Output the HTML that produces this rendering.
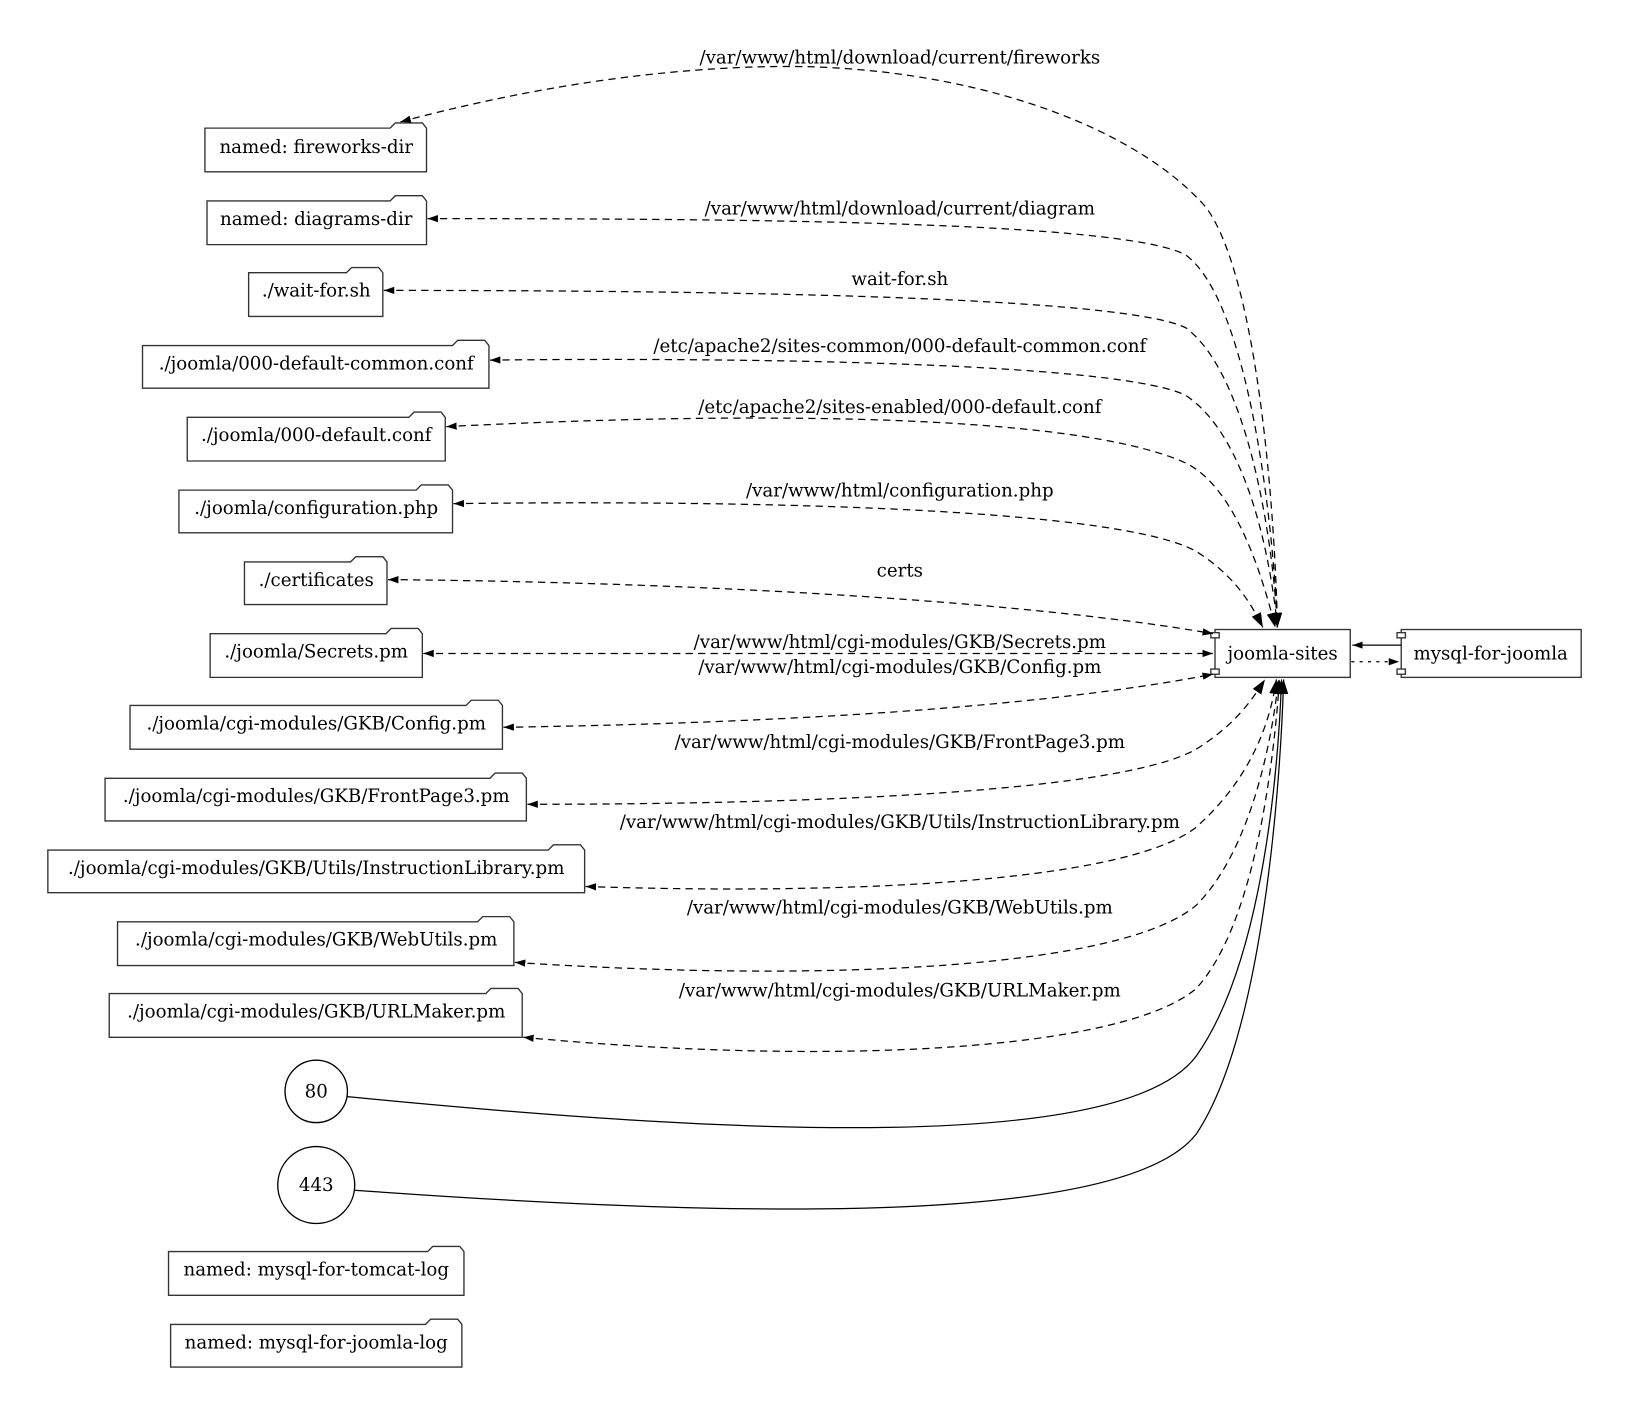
<!DOCTYPE html>
<html><head><meta charset="utf-8"><style>html,body{margin:0;padding:0;background:#fff}svg{display:block}</style></head>
<body>
<svg width="1628" height="1413" viewBox="0 0 1565 1358" xmlns="http://www.w3.org/2000/svg" font-family="'DejaVu Serif', 'Liberation Serif', serif" font-size="17.5">
<defs>
<marker id="a" viewBox="0 0 10 10" refX="10" refY="5" markerWidth="10" markerHeight="10" markerUnits="userSpaceOnUse" orient="auto-start-reverse"><path d="M0,1.5 L10,5 L0,8.5 z" fill="#000"/></marker>
<marker id="b" viewBox="0 0 10 10" refX="10" refY="5" markerWidth="14" markerHeight="14" markerUnits="userSpaceOnUse" orient="auto-start-reverse"><path d="M0,1.5 L10,5 L0,8.5 z" fill="#000"/></marker>
</defs>
<g fill="#fff" stroke="#333" stroke-width="1.3">
<path d="M197,123 H375 L380,118 H406 L410,123 V165 H197 Z"/>
<path d="M199,193 H375 L380,188 H406 L410,193 V235 H199 Z"/>
<path d="M239,262 H333 L338,257 H364 L368,262 V304 H239 Z"/>
<path d="M137,332 H435 L440,327 H466 L470,332 V373 H137 Z"/>
<path d="M180,401 H393 L398,396 H424 L428,401 V443 H180 Z"/>
<path d="M172,471 H400 L405,466 H431 L435,471 V512 H172 Z"/>
<path d="M235,540 H337 L342,535 H368 L372,540 V581 H235 Z"/>
<path d="M202,609 H371 L376,604 H402 L406,609 V651 H202 Z"/>
<path d="M125,678 H448 L453,673 H479 L483,678 V720 H125 Z"/>
<path d="M101,748 H471 L476,743 H502 L506,748 V789 H101 Z"/>
<path d="M46,817 H527 L532,812 H558 L562,817 V858 H46 Z"/>
<path d="M113,886 H459 L464,881 H490 L494,886 V928 H113 Z"/>
<path d="M105,955 H467 L472,950 H498 L502,955 V997 H105 Z"/>
<path d="M162,1203 H411 L416,1198 H442 L446,1203 V1245 H162 Z"/>
<path d="M164,1273 H409 L414,1268 H440 L444,1273 V1314 H164 Z"/>
<ellipse cx="304" cy="1049" rx="30" ry="30" stroke="#000"/>
<ellipse cx="304" cy="1139" rx="37" ry="37" stroke="#000"/>
<rect x="1168" y="605" width="130" height="46"/>
<rect x="1164" y="608" width="8" height="5"/>
<rect x="1164" y="643" width="8" height="5"/>
<rect x="1347" y="605" width="173" height="46"/>
<rect x="1343" y="608" width="8" height="5"/>
<rect x="1343" y="643" width="8" height="5"/>
</g>
<g fill="none" stroke="#000" stroke-width="1.2" stroke-dasharray="7,5">
<path marker-start="url(#a)" marker-end="url(#b)" d="M385,117 C560,70 700,62 780,64 C960,70 1100,130 1160,200 C1210,270 1226,500 1228,603"/>
<path marker-start="url(#a)" marker-end="url(#b)" d="M411,210 C700,210 1080,212 1140,245 C1200,290 1224,500 1228,603"/>
<path marker-start="url(#a)" marker-end="url(#b)" d="M369,279 C700,279 1080,285 1140,315 C1200,360 1224,520 1228,603"/>
<path marker-start="url(#a)" marker-end="url(#b)" d="M471,346 C750,343 1080,350 1140,380 C1200,420 1222,540 1228,603"/>
<path marker-start="url(#a)" marker-end="url(#b)" d="M429,410 C700,396 1030,395 1140,445 C1190,470 1215,560 1226,603"/>
<path marker-start="url(#a)" marker-end="url(#b)" d="M436,484 C750,480 1080,490 1150,530 C1190,555 1205,585 1214,603"/>
<path marker-start="url(#a)" marker-end="url(#a)" d="M373,557 C700,560 1000,580 1166,609"/>
<path marker-start="url(#a)" marker-end="url(#a)" d="M407,628 L1166,628"/>
<path marker-start="url(#a)" marker-end="url(#a)" d="M484,699 C750,695 1000,680 1166,648"/>
<path marker-start="url(#a)" marker-end="url(#b)" d="M507,773 C800,773 1080,760 1150,720 C1190,695 1205,670 1216,653"/>
<path marker-start="url(#a)" marker-end="url(#b)" d="M563,852 C800,860 1080,850 1150,795 C1200,750 1220,700 1227,653"/>
<path marker-start="url(#a)" marker-end="url(#b)" d="M495,925 C800,945 1080,930 1150,870 C1200,820 1222,720 1229,653"/>
<path marker-start="url(#a)" marker-end="url(#b)" d="M503,997 C800,1025 1080,1010 1150,950 C1205,890 1224,740 1230,653"/>
<path marker-end="url(#a)" stroke-dasharray="3,5" d="M1299,636 L1345,636"/>
</g>
<g fill="none" stroke="#000" stroke-width="1.2">
<path marker-end="url(#b)" d="M334,1054 C700,1090 1080,1110 1150,1015 C1210,930 1228,760 1232,653"/>
<path marker-end="url(#b)" d="M341,1144 C700,1170 1080,1180 1150,1090 C1210,1000 1230,780 1234,653"/>
<path marker-end="url(#a)" d="M1347,620 L1300,620"/>
</g>
<g text-anchor="middle" fill="#000">
<text x="304" y="147">named: fireworks-dir</text>
<text x="304" y="216">named: diagrams-dir</text>
<text x="304" y="285">./wait-for.sh</text>
<text x="304" y="355">./joomla/000-default-common.conf</text>
<text x="304" y="424">./joomla/000-default.conf</text>
<text x="304" y="494">./joomla/configuration.php</text>
<text x="304" y="563">./certificates</text>
<text x="304" y="632">./joomla/Secrets.pm</text>
<text x="304" y="701">./joomla/cgi-modules/GKB/Config.pm</text>
<text x="304" y="771">./joomla/cgi-modules/GKB/FrontPage3.pm</text>
<text x="304" y="840">./joomla/cgi-modules/GKB/Utils/InstructionLibrary.pm</text>
<text x="304" y="909">./joomla/cgi-modules/GKB/WebUtils.pm</text>
<text x="304" y="978">./joomla/cgi-modules/GKB/URLMaker.pm</text>
<text x="304" y="1055">80</text>
<text x="304" y="1145">443</text>
<text x="304" y="1226">named: mysql-for-tomcat-log</text>
<text x="304" y="1296">named: mysql-for-joomla-log</text>
<text x="1233" y="634">joomla-sites</text>
<text x="1433" y="634">mysql-for-joomla</text>
<text x="865" y="61">/var/www/html/download/current/fireworks</text>
<text x="865" y="206">/var/www/html/download/current/diagram</text>
<text x="865" y="274">wait-for.sh</text>
<text x="865" y="338">/etc/apache2/sites-common/000-default-common.conf</text>
<text x="865" y="397">/etc/apache2/sites-enabled/000-default.conf</text>
<text x="865" y="477">/var/www/html/configuration.php</text>
<text x="865" y="554">certs</text>
<text x="865" y="623">/var/www/html/cgi-modules/GKB/Secrets.pm</text>
<text x="865" y="647">/var/www/html/cgi-modules/GKB/Config.pm</text>
<text x="865" y="719">/var/www/html/cgi-modules/GKB/FrontPage3.pm</text>
<text x="865" y="796">/var/www/html/cgi-modules/GKB/Utils/InstructionLibrary.pm</text>
<text x="865" y="878">/var/www/html/cgi-modules/GKB/WebUtils.pm</text>
<text x="865" y="958">/var/www/html/cgi-modules/GKB/URLMaker.pm</text>
</g>
</svg>
</body></html>
